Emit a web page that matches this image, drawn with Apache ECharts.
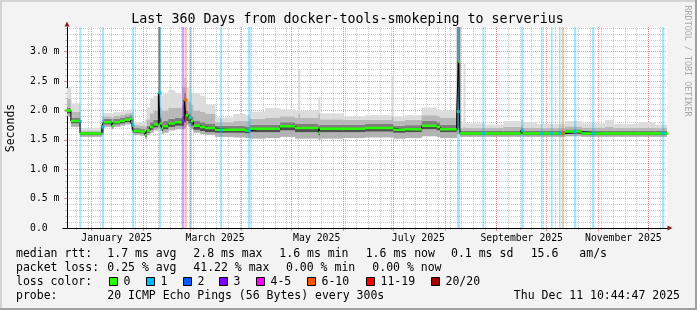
<!DOCTYPE html>
<html><head><meta charset="utf-8">
<script src="https://cdn.jsdelivr.net/npm/echarts@6/dist/echarts.min.js"></script>
<style>html,body{margin:0;padding:0;background:#f3f3f3}#c{width:697px;height:310px}</style>
</head><body><div id="c"></div>
<script>
// ---------- data ----------
const dates = ['2024-12-16','2024-12-19 12:00','2024-12-25','2025-01-07','2025-01-08','2025-01-13','2025-01-14','2025-01-18','2025-01-21','2025-01-24',
 '2025-01-25','2025-01-26','2025-01-30','2025-02-02','2025-02-03','2025-02-05','2025-02-07','2025-02-10','2025-02-11','2025-02-12',
 '2025-02-13','2025-02-16','2025-02-20','2025-02-24 04:00','2025-02-25 12:00','2025-02-26 12:00','2025-02-28','2025-03-01 12:00','2025-03-03','2025-03-07',
 '2025-03-10','2025-03-16','2025-03-27','2025-04-03','2025-04-06','2025-04-15','2025-04-24','2025-05-03','2025-05-05','2025-05-06',
 '2025-05-17','2025-05-18','2025-06-01','2025-06-14','2025-06-30','2025-07-01','2025-07-08','2025-07-18','2025-07-27','2025-07-29',
 '2025-08-08','2025-08-09','2025-08-10','2025-08-12','2025-08-13','2025-08-25','2025-09-05','2025-09-15 12:00','2025-09-16 12:00','2025-09-25',
 '2025-10-12','2025-10-22','2025-11-05','2025-11-10','2025-11-25','2025-12-05','2025-12-13'];
const median = [2.00,1.82,1.61,1.72,1.80,1.74,1.80,1.82,1.84,1.86,
 1.75,1.65,1.64,1.58,1.66,1.72,1.76,2.30,1.78,1.70,
 1.73,1.78,1.80,1.82,2.18,1.92,1.87,1.82,1.74,1.72,
 1.70,1.67,1.67,1.66,1.69,1.69,1.73,1.70,1.70,1.70,
 1.62,1.69,1.69,1.70,1.70,1.67,1.68,1.74,1.72,1.68,
 1.98,2.83,1.61,1.61,1.61,1.61,1.61,1.66,1.61,1.61,
 1.64,1.61,1.61,1.61,1.61,1.61,1.61];
const smokeLo = [1.90,1.72,1.55,1.58,1.72,1.68,1.72,1.74,1.76,1.78,
 1.62,1.58,1.57,1.52,1.58,1.62,1.66,1.70,1.66,1.60,
 1.62,1.66,1.68,1.68,1.70,1.75,1.72,1.68,1.62,1.60,
 1.58,1.55,1.54,1.53,1.52,1.53,1.55,1.52,1.52,1.52,
 1.50,1.52,1.53,1.54,1.54,1.52,1.53,1.56,1.55,1.53,
 1.60,1.60,1.55,1.55,1.55,1.55,1.55,1.56,1.55,1.55,
 1.56,1.55,1.55,1.55,1.55,1.55,1.55];
const smokeQ1 = [1.95,1.78,1.58,1.62,1.76,1.71,1.76,1.78,1.80,1.82,
 1.66,1.62,1.61,1.55,1.62,1.67,1.71,1.80,1.72,1.65,
 1.68,1.72,1.74,1.74,1.80,1.82,1.78,1.74,1.67,1.65,
 1.63,1.62,1.62,1.61,1.63,1.63,1.66,1.63,1.63,1.63,
 1.58,1.63,1.63,1.64,1.64,1.62,1.63,1.68,1.66,1.63,
 1.66,1.70,1.58,1.58,1.58,1.58,1.58,1.60,1.58,1.58,
 1.60,1.58,1.58,1.58,1.58,1.58,1.58];
const smokeQ3 = [2.05,1.88,1.64,1.78,1.86,1.80,1.86,1.88,1.90,1.92,
 1.86,1.70,1.69,1.64,1.74,1.80,1.84,3.45,1.88,1.80,
 1.82,1.86,1.88,1.90,2.30,2.00,1.95,1.90,1.82,1.80,
 1.78,1.74,1.74,1.73,1.76,1.76,1.80,1.77,1.78,1.77,
 1.75,1.76,1.76,1.77,1.77,1.74,1.75,1.82,1.80,1.76,
 3.45,3.45,1.65,1.65,1.65,1.65,1.65,1.70,1.65,1.65,
 1.68,1.65,1.65,1.65,1.65,1.65,1.65];
const smokeQ9 = [2.20,1.98,1.66,1.84,1.90,1.88,1.91,1.93,1.95,1.96,
 1.92,1.75,1.74,1.72,1.85,1.95,2.00,3.45,2.05,2.00,
 2.00,2.05,2.05,2.10,2.40,2.20,2.15,2.10,2.00,1.98,
 1.95,1.80,1.82,1.82,1.86,1.88,1.90,1.88,1.95,1.88,
 1.95,1.85,1.84,1.84,1.90,1.82,1.84,1.92,1.90,1.88,
 3.45,3.45,1.70,1.72,1.70,1.70,1.72,1.75,1.71,1.70,
 1.73,1.71,1.72,1.70,1.71,1.70,1.70];
const smokeHi = [2.38,2.12,1.70,1.90,1.96,1.94,1.97,1.98,2.00,2.02,
 1.98,1.80,1.80,1.85,2.05,2.20,2.25,3.45,2.30,2.25,
 2.28,2.35,2.30,2.40,2.55,2.40,2.35,2.30,2.30,2.25,
 2.10,1.88,1.94,1.92,1.98,2.04,2.02,2.00,2.70,2.00,
 2.23,1.95,1.90,1.92,2.60,1.90,1.92,2.05,2.02,2.00,
 3.45,3.45,1.78,2.80,1.78,1.76,1.82,1.84,1.80,1.77,
 1.82,1.78,1.84,1.77,1.80,1.76,1.76];

const lossStart = ['2024-12-24 14:00','2025-01-07 04:00','2025-01-25 04:00','2025-02-10 09:00','2025-02-24 04:00','2025-02-25 20:00','2025-02-28 12:00',
 '2025-03-19 00:00','2025-04-04 18:00','2025-08-08 04:00','2025-08-23 09:00','2025-09-15 18:00','2025-09-27 14:00','2025-10-03 14:00',
 '2025-10-08 09:00','2025-10-10 00:00','2025-10-17 09:00','2025-10-28 05:00','2025-12-09 05:00'];
const lossDays  = [1.2,1.2,1.2,1.2,1.4,1.3,1.6,1.2,1.6,1.8,1.2,1.4,1.0,1.0,1.0,1.4,1.4,1.4,1.4];
const lossLevel = [1,1,1,1,3,5,1,1,1,1,1,1,1,1,1,5,1,1,1];
const lossRtt   = [1.81,1.72,1.75,2.30,1.82,2.18,1.88,1.67,1.66,1.98,1.61,1.66,1.61,1.61,1.61,1.61,1.64,1.61,1.61];

const lossColors = ['#26ff00','#00b8ff','#0059ff','#7e00ff','#ff00ff','#ff5500','#ff0000','#a10000'];
const lossLabels = ['0','1','2','3','4-5','6-10','11-19','20/20'];

const yMajorTicks = [0,0.5,1,1.5,2,2.5,3];
const yTickLabels = ['0.0','0.5 m','1.0 m','1.5 m','2.0 m','2.5 m','3.0 m'];
const monthStarts = ['2025-01-01','2025-02-01','2025-03-01','2025-04-01','2025-05-01','2025-06-01','2025-07-01','2025-08-01','2025-09-01','2025-10-01','2025-11-01','2025-12-01'];
const monthLabelDates = ['2025-01-16','2025-03-16','2025-05-16','2025-07-16','2025-09-16','2025-11-16'];
const monthLabels = ['January 2025','March 2025','May 2025','July 2025','September 2025','November 2025'];
const xMinStr = '2024-12-17 04:19', xMaxStr = '2025-12-12 04:19';
const yMax = 3.42;

// ---------- helpers ----------
function T(s){const p=s.split(' ');const d=p[0].split('-').map(Number);const h=(p[1]||'00:00').split(':').map(Number);return new Date(d[0],d[1]-1,d[2],h[0],h[1]).getTime();}
const DAY = 86400000;
const xMin = T(xMinStr), xMax = T(xMaxStr);
const weekly = [];
for (let w = new Date(2024,11,23); w.getTime() <= xMax; w = new Date(w.getFullYear(), w.getMonth(), w.getDate()+7)) weekly.push(w.getTime());
const yMinor = [];
for (let k = 1; k <= 34; k++) if (k % 5) yMinor.push(k/10);
const FONT = 'DejaVu Sans Mono';
const MINOR = 'rgba(150,150,150,0.5)';
const MAJOR = 'rgba(230,60,60,0.55)';
const monthTs = monthStarts.map(T);
const labelTs = monthLabelDates.map(T);
const tx = dates.map(T);

// smoke: one custom item per interval, drawn as bands through the axis scales
const smokeData = [];
for (let i = 0; i < tx.length-1; i++) smokeData.push([tx[i], tx[i+1], smokeLo[i], smokeQ1[i], median[i], smokeQ3[i], smokeQ9[i], smokeHi[i]]);
const bandColors = ['#b2b2b2','#4e4e4e','#7e7e7e','#b8b8b8','#dcdcdc'];
const series = [];
series.push({
  type:'custom', xAxisIndex:1, yAxisIndex:1, data: smokeData, silent:true, z:1, clip:true,
  encode:{x:[0,1], y:[2,7]},
  renderItem:(params, api)=>{
    const xa = api.coord([api.value(0), 0])[0], xb = api.coord([api.value(1), 0])[0];
    const children = [];
    for (let k = 0; k < 5; k++) {
      const ya = api.coord([api.value(0), api.value(2+k)])[1];
      const yb = api.coord([api.value(0), api.value(3+k)])[1];
      children.push({type:'rect', shape:{x:xa, y:yb, width:xb-xa+0.4, height:ya-yb}, style:{fill:bandColors[k]}});
    }
    return {type:'group', children};
  }
});
function hexA(hex,a){const n=parseInt(hex.slice(1),16);return `rgba(${n>>16&255},${n>>8&255},${n&255},${a})`;}
series.push({
  type:'line', xAxisIndex:1, yAxisIndex:1, data:[], silent:true, z:2,
  markArea:{silent:true, z:2, data: lossStart.map((s,i)=>[{xAxis:T(s), itemStyle:{color:hexA(lossColors[lossLevel[i]],0.35)}},{xAxis:T(s)+lossDays[i]*DAY}])}
});
series.push({type:'line', step:'end', xAxisIndex:1, yAxisIndex:1, data: tx.map((t,i)=>[t, median[i]]), showSymbol:false, silent:true, z:3,
  lineStyle:{color:'#000', width:1}});
const green = [];
for (let i = 0; i < tx.length-1; i++) green.push([tx[i], median[i]], [tx[i+1], median[i]], [tx[i+1], '-']);
series.push({type:'line', xAxisIndex:1, yAxisIndex:1, data: green, showSymbol:false, silent:true, z:4, connectNulls:false,
  lineStyle:{color:lossColors[0], width:2.5}});
series.push({type:'scatter', xAxisIndex:1, yAxisIndex:1, symbol:'rect', symbolSize:3, silent:true, z:5,
  data: lossStart.map((s,i)=>({value:[T(s)+lossDays[i]*DAY/2, lossRtt[i]], itemStyle:{color:lossColors[lossLevel[i]]}}))});

// ---------- graphics (frame, texts, legend) ----------
const g = [];
const txt = (x,y,text,opt={}) => g.push(Object.assign({type:'text', x, y, silent:true, style:Object.assign({text, fill:'#000', font:`11.5px "${FONT}"`, align:'left', verticalAlign:'middle'}, opt.style||{})}, opt.el||{}));
g.push({type:'rect', shape:{x:0,y:0,width:697,height:2}, style:{fill:'#d4d4d4'}, silent:true});
g.push({type:'rect', shape:{x:0,y:0,width:2,height:310}, style:{fill:'#d4d4d4'}, silent:true});
g.push({type:'rect', shape:{x:695,y:0,width:2,height:310}, style:{fill:'#a0a0a0'}, silent:true});
g.push({type:'rect', shape:{x:0,y:308,width:697,height:2}, style:{fill:'#a0a0a0'}, silent:true});
txt(347.5, 19.5, 'Last 360 Days from docker-tools-smokeping to serverius', {style:{font:`13.3px "${FONT}"`, align:'center'}});
txt(11, 128, 'Seconds', {el:{rotation:Math.PI/2}, style:{align:'center'}});
txt(687, 61, 'RRDTOOL / TOBI OETIKER', {el:{rotation:-Math.PI/2}, style:{align:'center', fill:'#a8a8a8', font:`8.4px "${FONT}"`}});
g.push({type:'polygon', shape:{points:[[64.5,26.5],[69.5,26.5],[67,21.5]]}, style:{fill:'#8b1c1c'}, silent:true, z:10});
g.push({type:'polygon', shape:{points:[[667.5,225.5],[667.5,230.5],[672.5,228]]}, style:{fill:'#8b1c1c'}, silent:true, z:10});
g.push({type:'line', shape:{x1:62.5,y1:228.5,x2:668,y2:228.5}, style:{stroke:'#000', lineWidth:1}, silent:true, z:9});
const R1=254.5,R2=268.5,R3=282.5,R4=296.5;
txt(16,R1,'median rtt:'); txt(107.3,R1,'1.7 ms avg'); txt(193.3,R1,'2.8 ms max'); txt(279.3,R1,'1.6 ms min'); txt(365.7,R1,'1.6 ms now'); txt(451,R1,'0.1 ms sd'); txt(530.7,R1,'15.6'); txt(579.3,R1,'am/s');
txt(16,R2,'packet loss:'); txt(107.3,R2,'0.25 % avg'); txt(193.3,R2,'41.22 % max'); txt(286,R2,'0.00 % min'); txt(372.3,R2,'0.00 % now');
txt(16,R3,'loss color:');
const sqX = [109,145.7,182.7,219.3,256,307.3,365.7,430.7];
lossLabels.forEach((lab,i)=>{
  const x = Math.round(sqX[i]);
  g.push({type:'rect', shape:{x:x+0.5,y:277.5,width:8,height:8}, style:{fill:lossColors[i], stroke:'#000', lineWidth:1}, silent:true});
  txt(x+14.5, R3, lab);
});
txt(16,R4,'probe:'); txt(107.3,R4,'20 ICMP Echo Pings (56 Bytes) every 300s'); txt(680,R4,'Thu Dec 11 10:44:47 2025',{style:{align:'right'}});

// ---------- chart ----------
const chart = echarts.init(document.getElementById('c'), null, {renderer:'canvas'});
chart.setOption({
  animation:false,
  backgroundColor:'#f3f3f3',
  grid:{left:67, top:27, width:600, height:201, show:true, backgroundColor:'#ffffff', borderWidth:0},
  xAxis:[
    {type:'value', min:xMin, max:xMax, position:'bottom',
     axisLine:{show:false}, axisLabel:{show:false},
     axisTick:{show:true, customValues:weekly, length:2, lineStyle:{color:MINOR}},
     splitLine:{show:true, lineStyle:{color:MINOR, type:[1,1], width:1}}},
    {type:'value', min:xMin, max:xMax, position:'bottom',
     axisLine:{show:true, lineStyle:{color:'#000', width:1}},
     axisTick:{show:true, customValues:monthTs, length:3, lineStyle:{color:MAJOR}},
     axisLabel:{show:true, customValues:labelTs, margin:5, color:'#000', fontFamily:FONT, fontSize:9.8,
       formatter:(v)=>{const i=labelTs.indexOf(v); return i>=0?monthLabels[i]:'';}},
     splitLine:{show:true, lineStyle:{color:MAJOR, type:[1,1], width:1}}}
  ],
  yAxis:[
    {type:'value', min:0, max:yMax, position:'left',
     axisLine:{show:false}, axisLabel:{show:false},
     axisTick:{show:true, customValues:yMinor, length:2, lineStyle:{color:MINOR}},
     splitLine:{show:true, lineStyle:{color:MINOR, type:[1,1], width:1}}},
    {type:'value', min:0, max:yMax, position:'left',
     axisLine:{show:true, lineStyle:{color:'#000', width:1}},
     axisTick:{show:true, customValues:yMajorTicks, length:3, lineStyle:{color:MAJOR}},
     axisLabel:{show:true, customValues:yMajorTicks, align:'left', margin:37, color:'#000', fontFamily:FONT, fontSize:9.8,
       formatter:(v)=>{const i=yMajorTicks.findIndex(t=>Math.abs(t-v)<1e-6); return i>=0?yTickLabels[i]:'';}},
     splitLine:{show:true, lineStyle:{color:MAJOR, type:[1,1], width:1}}}
  ],
  series,
  graphic:{elements:g}
});
</script></body></html>
